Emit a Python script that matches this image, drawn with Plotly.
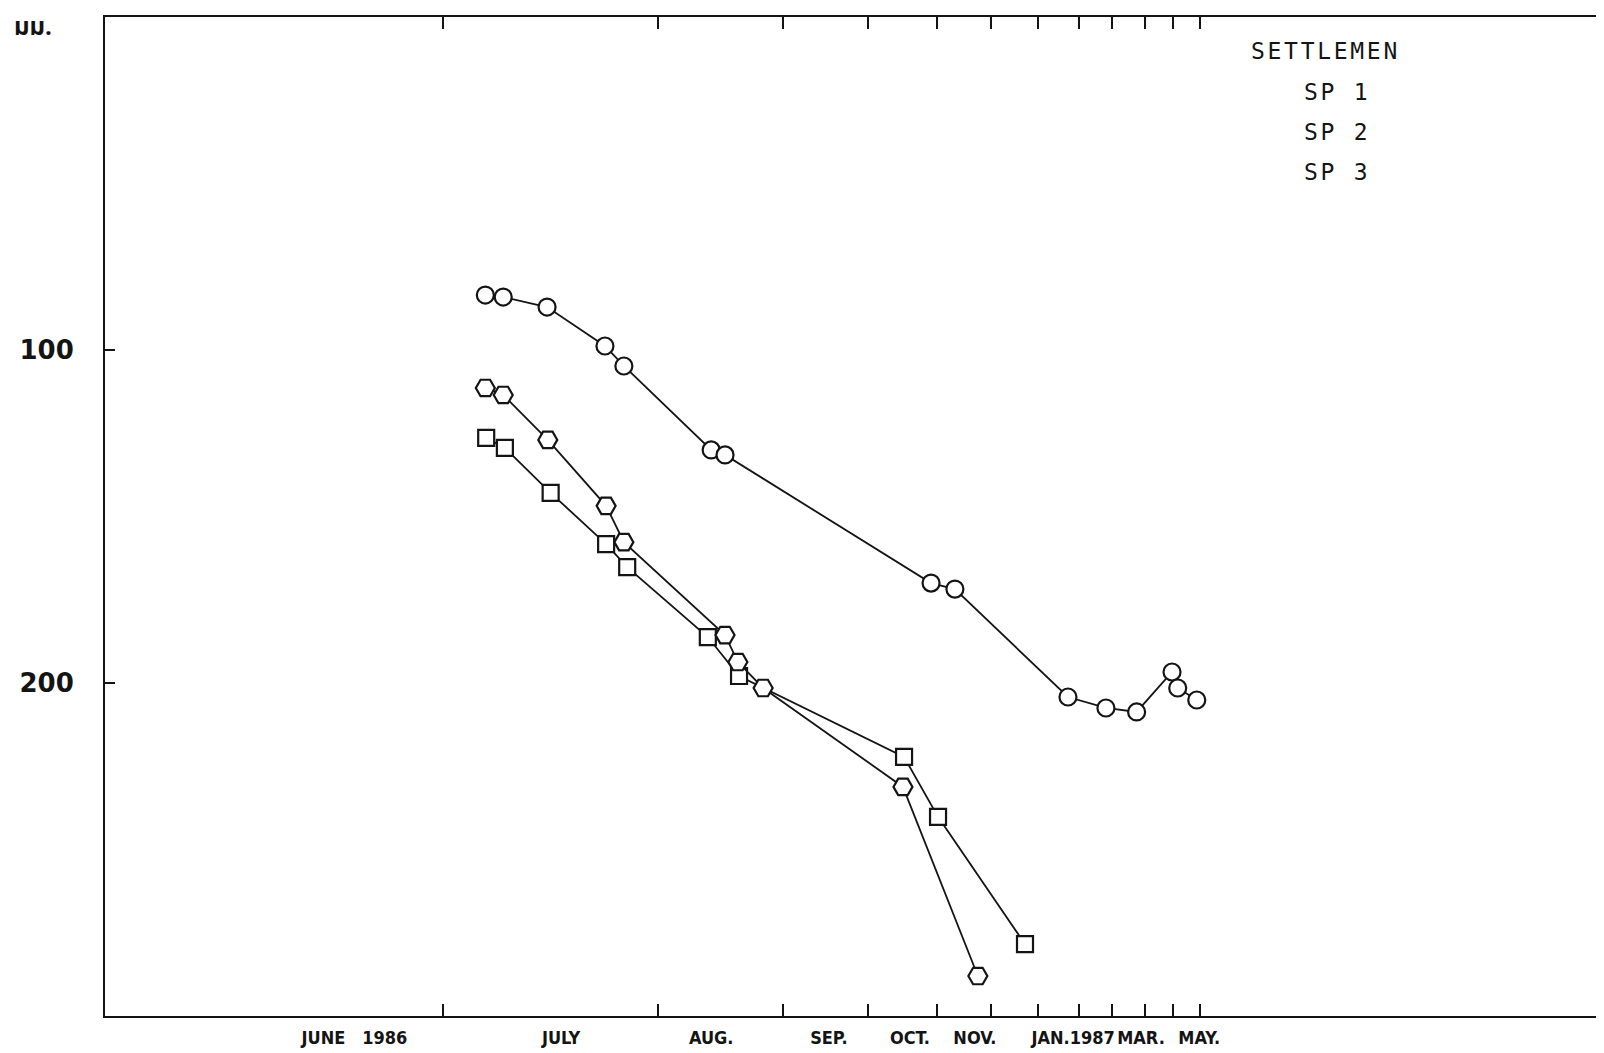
import math
import plotly.graph_objects as go

# Settlement plate readings: elapsed days since 1 June 1986 (log time axis), settlement in mm
sp1_days = [34.5, 36.6, 42.3, 51.2, 54.5, 72.7, 76.1, 150.2, 162.5, 236.0, 267.5, 296.0, 332.7, 339.0, 361.0]
sp1_mm = [83.5, 84.1, 87.1, 98.8, 104.8, 130.0, 131.5, 170.0, 171.8, 204.2, 207.5, 208.7, 196.7, 201.5, 205.1]

sp2_days = [34.5, 36.6, 42.4, 51.4, 54.5, 76.1, 79.4, 86.3, 136.9, 175.3]
sp2_mm = [111.4, 113.5, 127.0, 146.8, 157.7, 185.6, 193.7, 201.5, 231.2, 288.0]

sp3_days = [34.6, 36.8, 42.8, 51.4, 55.1, 71.9, 79.7, 137.4, 153.7, 204.8]
sp3_mm = [126.4, 129.4, 142.9, 158.3, 165.2, 186.2, 197.9, 222.2, 240.2, 278.4]

# month boundaries (days since 1 June 1986) and month label positions
month_tick_days = [30, 61, 92, 122, 153, 183, 214, 245, 273, 304, 334, 365]
month_label_days = [22.4, 44.3, 72.7, 107.2, 140.1, 173.6, 240.0, 300.3, 364.0]
month_labels = ["JUNE   1986", "JULY", "AUG.", "SEP.", "OCT.", "NOV.", "JAN.1987", "MAR.", "MAY."]

y_ticks = [100, 200]
y_unit = "มม."
legend_title = "SETTLEMEN"
series_names = ["SP 1", "SP 2", "SP 3"]

X_RANGE = [0.9927, 3.1412]
INK = "#141414"
PW, PH = 1499, 999  # plot area size in px

fig = go.Figure()

def add_series(days, mm, name, symbol, size):
    fig.add_trace(go.Scatter(
        x=days, y=mm, name=name, mode="lines+markers",
        line=dict(color=INK, width=1.8),
        marker=dict(symbol=symbol, size=size, color="white",
                    line=dict(color=INK, width=2.2)),
        showlegend=False, cliponaxis=False,
    ))

add_series(sp3_days, sp3_mm, series_names[2], "square", 16)
add_series(sp2_days, sp2_mm, series_names[1], "hexagon2", 19)
add_series(sp1_days, sp1_mm, series_names[0], "circle", 17)

# invisible trace so that the label axis exists
fig.add_trace(go.Scatter(x=[], y=[], xaxis="x2", showlegend=False, hoverinfo="skip"))

fig.update_layout(
    width=1604, height=1053,
    margin=dict(l=97, r=8, t=9, b=45, autoexpand=False),
    paper_bgcolor="white", plot_bgcolor="white",
    xaxis=dict(
        type="log", range=X_RANGE, automargin=False,
        tickvals=month_tick_days, ticktext=[""] * len(month_tick_days),
        ticks="inside", ticklen=12, tickwidth=2, tickcolor=INK,
        showline=True, linewidth=2, linecolor=INK, mirror="ticks",
        showgrid=False, zeroline=False,
    ),
    xaxis2=dict(
        type="log", range=X_RANGE, overlaying="x", side="bottom", anchor="y",
        automargin=False, tickangle=0,
        tickvals=month_label_days, ticktext=month_labels, ticks="",
        showline=False, showgrid=False, zeroline=False,
        tickfont=dict(family="DejaVu Sans Condensed, DejaVu Sans", size=18, color=INK, weight="bold"),
        ticklabelstandoff=9,
    ),
    yaxis=dict(
        range=[300, 0], tickvals=y_ticks, automargin=False,
        ticks="inside", ticklen=10, tickwidth=2, tickcolor=INK,
        showline=True, linewidth=2, linecolor=INK, mirror=False,
        showgrid=False, zeroline=False,
        tickfont=dict(family="DejaVu Sans", size=26, color=INK, weight="bold"),
        ticklabelstandoff=24,
    ),
)

# unit label at top-left
fig.add_annotation(xref="paper", yref="paper", x=-93 / PW, y=1 - (28 - 17) / PH,
                   xanchor="left", yanchor="middle", showarrow=False, text=y_unit,
                   font=dict(family="Noto Sans Thai, Noto Serif Thai, Loma, Garuda, Norasi, Tlwg Typo, sans-serif",
                             size=24, color=INK, weight="bold"))

# legend text (typewriter)
mono = dict(family="DejaVu Sans Mono", size=23, color=INK)
fig.add_annotation(xref="paper", yref="paper", x=(1249 - 105) / PW, y=1 - (51 - 17) / PH,
                   xanchor="left", yanchor="middle", showarrow=False,
                   text='<span style="letter-spacing:2.7px">' + legend_title + '</span>', font=mono)
for i, nm in enumerate(series_names):
    fig.add_annotation(xref="paper", yref="paper", x=(1302 - 105) / PW,
                       y=1 - (92 + 40 * i - 17) / PH,
                       xanchor="left", yanchor="middle", showarrow=False,
                       text='<span style="letter-spacing:2.7px">' + nm + '</span>', font=mono)

fig.write_html("out.html")
